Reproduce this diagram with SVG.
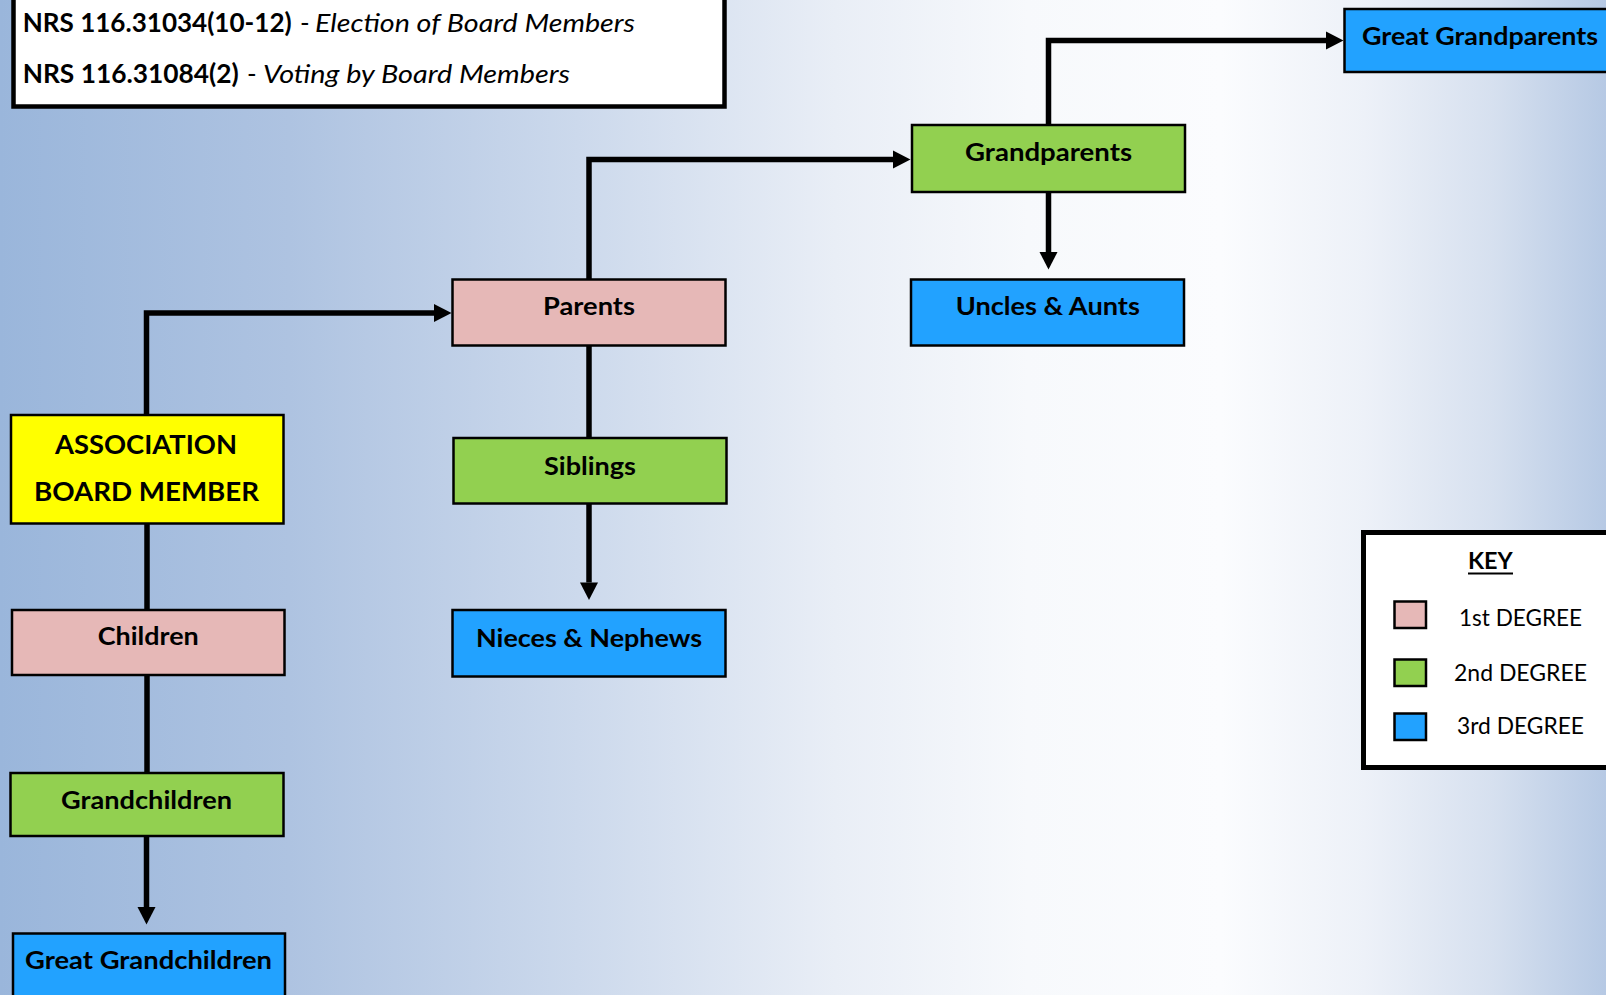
<svg xmlns="http://www.w3.org/2000/svg" width="1606" height="995" viewBox="0 0 1606 995">
<defs>
<linearGradient id="bg" x1="0" y1="0" x2="1606" y2="0" gradientUnits="userSpaceOnUse">
<stop offset="0" stop-color="#9AB6DB"/>
<stop offset="0.18" stop-color="#AEC3E1"/>
<stop offset="0.36" stop-color="#CCD9EC"/>
<stop offset="0.52" stop-color="#E9EEF6"/>
<stop offset="0.64" stop-color="#F7F9FC"/>
<stop offset="0.76" stop-color="#FBFCFE"/>
<stop offset="0.85" stop-color="#EDF1F8"/>
<stop offset="0.93" stop-color="#D6E0EF"/>
<stop offset="1" stop-color="#B6C9E4"/>
</linearGradient>
<marker id="arr" markerUnits="userSpaceOnUse" markerWidth="18" markerHeight="18" refX="0" refY="9" orient="auto" overflow="visible">
<path d="M0,0 L17.5,9 L0,18 z" fill="#000"/>
</marker>
<style>
.node{stroke:#000;stroke-width:2.5}
.pink{fill:#E6B8B7}
.green{fill:#92D050}
.blue{fill:#22A2FF}
.yellow{fill:#FFFF00}
.lbl{font-family:Lato,"Open Sans","Liberation Sans",sans-serif;font-weight:bold;font-size:25px;fill:#000;text-anchor:middle}
.conn{fill:none;stroke:#000;stroke-width:5.5}
.keyt{font-family:Lato,"Open Sans","Liberation Sans",sans-serif;font-size:23px;fill:#000}
.tt{font-family:Lato,"Open Sans","Liberation Sans",sans-serif;font-size:26px;fill:#000}
</style>
</defs>
<rect x="0" y="0" width="1606" height="995" fill="url(#bg)"/>

<g id="title">
<rect x="13.5" y="-10" width="711" height="116.5" fill="#fff" stroke="#000" stroke-width="4.5"/>
<text class="tt" y="31.5"><tspan x="22.7" font-weight="bold" textLength="269" lengthAdjust="spacingAndGlyphs">NRS 116.31034(10-12)</tspan><tspan x="300">-</tspan><tspan x="315" font-style="italic" textLength="320" lengthAdjust="spacingAndGlyphs">Election of Board Members</tspan></text>
<text class="tt" y="82.7"><tspan x="22.7" font-weight="bold" textLength="216" lengthAdjust="spacingAndGlyphs">NRS 116.31084(2)</tspan><tspan x="247">-</tspan><tspan x="263" font-style="italic" textLength="307" lengthAdjust="spacingAndGlyphs">Voting by Board Members</tspan></text>
</g>

<g id="connectors">
<path class="conn" d="M146.5,415 V313 H434" marker-end="url(#arr)"/>
<path class="conn" d="M147,523 V610"/>
<path class="conn" d="M147,675 V773"/>
<path class="conn" d="M146.5,836 V907" marker-end="url(#arr)"/>
<path class="conn" d="M589,279.5 V159.5 H893" marker-end="url(#arr)"/>
<path class="conn" d="M589,345.5 V438"/>
<path class="conn" d="M589,503.5 V582.5" marker-end="url(#arr)"/>
<path class="conn" d="M1048.5,125 V40.5 H1326" marker-end="url(#arr)"/>
<path class="conn" d="M1048.5,192 V252" marker-end="url(#arr)"/>
</g>

<g id="great-grandparents">
<rect class="node blue" x="1344.5" y="9" width="273" height="63"/>
<text class="lbl" x="1480" y="45" textLength="236" lengthAdjust="spacingAndGlyphs">Great Grandparents</text>
</g>
<g id="grandparents">
<rect class="node green" x="912" y="125" width="273" height="67"/>
<text class="lbl" x="1048.5" y="161" textLength="167" lengthAdjust="spacingAndGlyphs">Grandparents</text>
</g>
<g id="uncles-aunts">
<rect class="node blue" x="911" y="279.5" width="273" height="66"/>
<text class="lbl" x="1047.8" y="315" textLength="184" lengthAdjust="spacingAndGlyphs">Uncles &amp; Aunts</text>
</g>
<g id="parents">
<rect class="node pink" x="452.5" y="279.5" width="273" height="66"/>
<text class="lbl" x="589" y="315" textLength="92" lengthAdjust="spacingAndGlyphs">Parents</text>
</g>
<g id="siblings">
<rect class="node green" x="453.5" y="438" width="273" height="65.5"/>
<text class="lbl" x="590" y="474.5" textLength="92" lengthAdjust="spacingAndGlyphs">Siblings</text>
</g>
<g id="nieces-nephews">
<rect class="node blue" x="452.5" y="610" width="273" height="66.5"/>
<text class="lbl" x="589" y="647" textLength="226" lengthAdjust="spacingAndGlyphs">Nieces &amp; Nephews</text>
</g>
<g id="board-member">
<rect class="node yellow" x="11" y="415" width="272.5" height="108.5"/>
<text class="lbl" style="font-size:27.5px" x="146" y="454" textLength="182" lengthAdjust="spacingAndGlyphs">ASSOCIATION</text>
<text class="lbl" style="font-size:27.5px" x="146.5" y="501" textLength="225" lengthAdjust="spacingAndGlyphs">BOARD MEMBER</text>
</g>
<g id="children">
<rect class="node pink" x="12" y="610" width="272.5" height="65"/>
<text class="lbl" x="148.3" y="645" textLength="101" lengthAdjust="spacingAndGlyphs">Children</text>
</g>
<g id="grandchildren">
<rect class="node green" x="10.5" y="773" width="273" height="63"/>
<text class="lbl" x="146.5" y="809" textLength="171" lengthAdjust="spacingAndGlyphs">Grandchildren</text>
</g>
<g id="great-grandchildren">
<rect class="node blue" x="13" y="933.5" width="272" height="80"/>
<text class="lbl" x="148.5" y="969" textLength="247" lengthAdjust="spacingAndGlyphs">Great Grandchildren</text>
</g>

<g id="key">
<rect x="1363.5" y="532.5" width="260" height="235" fill="#fff" stroke="#000" stroke-width="5"/>
<text class="keyt" x="1468" y="569" font-weight="bold" textLength="44.7" lengthAdjust="spacingAndGlyphs">KEY</text>
<line x1="1468" y1="573.5" x2="1513" y2="573.5" stroke="#000" stroke-width="2"/>
<rect class="node pink" x="1394.5" y="601.5" width="31.5" height="26.5" stroke-width="3"/>
<text class="keyt" x="1459" y="626" textLength="123" lengthAdjust="spacingAndGlyphs">1st DEGREE</text>
<rect class="node green" x="1394.5" y="659.5" width="31.5" height="26.5" stroke-width="3"/>
<text class="keyt" x="1454" y="680.7" textLength="133" lengthAdjust="spacingAndGlyphs">2nd DEGREE</text>
<rect class="node blue" x="1394.5" y="713.5" width="31.5" height="26.5" stroke-width="3"/>
<text class="keyt" x="1457" y="734" textLength="127" lengthAdjust="spacingAndGlyphs">3rd DEGREE</text>
</g>
</svg>
